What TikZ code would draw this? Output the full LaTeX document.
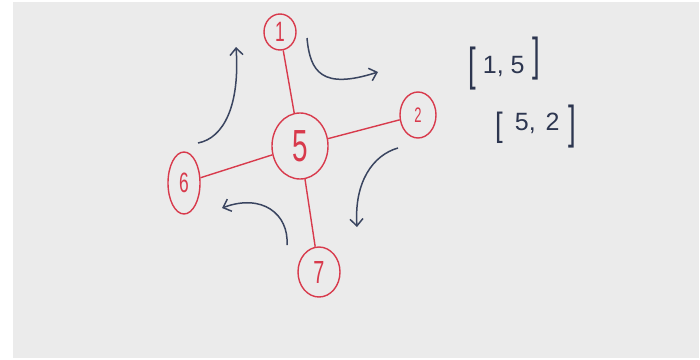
\documentclass[tikz,border=0pt]{standalone}
\usepackage{fontspec}
\usepackage{graphicx}
\setmainfont{Liberation Sans}
\usetikzlibrary{shapes.geometric,arrows.meta}
\definecolor{bgray}{HTML}{EBEBEB}
\definecolor{inkred}{HTML}{D83A4C}
\definecolor{inkblue}{HTML}{3A4560}
\definecolor{inkdark}{HTML}{2D3650}
\newcommand{\hdigit}[2]{{\fontsize{#1}{#1}\selectfont\scalebox{0.62}[1]{#2}}}
% #1 vertical scale, #2 raise, #3 glyph
\newcommand{\brk}[3]{\raisebox{#2}{\scalebox{1.1}[#1]{#3}}}
\tikzset{
  vnode/.style={ellipse, draw=inkred, line width=1.4pt, inner sep=0pt, text=inkred},
  redge/.style={draw=inkred, line width=1.4pt},
  marrow/.style={draw=inkblue, line width=1.5pt, -{Straight Barb[length=7pt,width=13pt,line width=1.5pt]}},
  note/.style={text=inkdark, inner sep=0pt, anchor=base west, font=\fontsize{25}{25}\selectfont}
}
\begin{document}
\begin{tikzpicture}[x=1pt,y=-1pt]
\useasboundingbox (0,0) rectangle (700,359);
\fill[white] (0,0) rectangle (700,359);
\fill[bgray] (13,2) rectangle (699,358);
% nodes
\node[vnode, minimum width=32pt, minimum height=36pt] (n1) at (280,32) {\hdigit{28}{1}};
\node[vnode, minimum width=56pt, minimum height=66pt] (n5) at (300,146) {\hdigit{45}{5}};
\node[vnode, minimum width=36pt, minimum height=46pt] (n2) at (418,115) {\hdigit{21}{2}};
\node[vnode, minimum width=32pt, minimum height=62pt] (n6) at (184,183) {\hdigit{28}{6}};
\node[vnode, minimum width=42pt, minimum height=50pt] (n7) at (319,272) {\hdigit{32}{7}};
% edges
\draw[redge] (n1) -- (n5);
\draw[redge] (n5) -- (n2);
\draw[redge] (n5) -- (n6);
\draw[redge] (n5) -- (n7);
% arrow coordinates
\coordinate (aS) at (198,143); \coordinate (aE) at (236,47);
\coordinate (bS) at (307,38);  \coordinate (bE) at (378,72);
\coordinate (cS) at (398,148); \coordinate (cE) at (357,227);
\coordinate (dS) at (287,245); \coordinate (dE) at (222,208);
\draw[marrow] (aS) .. controls (224,138) and (240,105) .. (aE);
\draw[marrow] (bS) .. controls (310,72) and (322,90) .. (bE);
\draw[marrow] (cS) .. controls (373,155) and (354,182) .. (cE);
\draw[marrow] (dS) .. controls (289,214) and (262,193) .. (dE);
% notes
\node[note] (t1) at (468,73) {\brk{1.85}{-7.5pt}{[}\hspace{7pt}1,\hspace{7pt}5\hspace{8pt}\brk{1.85}{2.5pt}{]}};
\node[note] (t2) at (495,130) {\brk{1.35}{-6pt}{[}\hspace{12pt}5,\hspace{10pt}2\hspace{9pt}\brk{1.85}{-8.5pt}{]}};
\end{tikzpicture}
\end{document}
